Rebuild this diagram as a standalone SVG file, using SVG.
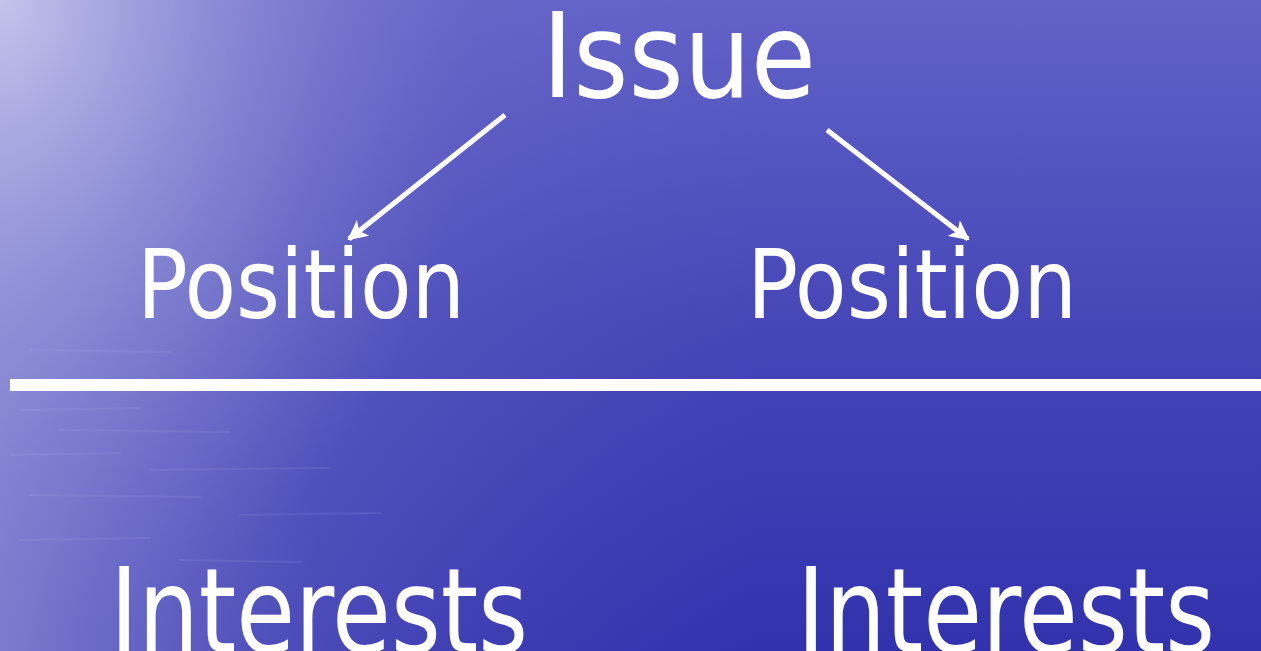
<svg xmlns="http://www.w3.org/2000/svg" width="1261" height="651" viewBox="0 0 1261 651">
<style>
.t{font-family:"DejaVu Sans Condensed","DejaVu Sans","Verdana",sans-serif;font-stretch:condensed;fill:#ffffff;}
.c{stroke:#ffffff;stroke-width:5;fill:none;}
.streak{stroke:#c8c8f0;stroke-width:2;stroke-linecap:round;opacity:0.1;}
</style>
<defs>
<linearGradient id="bgV" x1="0" y1="0" x2="0" y2="1">
<stop offset="0" stop-color="#6262c8"/>
<stop offset="0.5" stop-color="#4646b8"/>
<stop offset="1" stop-color="#3232ae"/>
</linearGradient>
<linearGradient id="bgH" x1="0" y1="0" x2="1" y2="0">
<stop offset="0" stop-color="#9494da" stop-opacity="0.75"/>
<stop offset="0.25" stop-color="#8080d0" stop-opacity="0.3"/>
<stop offset="0.6" stop-color="#6060c0" stop-opacity="0"/>
</linearGradient>
<radialGradient id="glow" cx="0" cy="0" r="1" gradientUnits="userSpaceOnUse" gradientTransform="translate(0,0) scale(480,640)">
<stop offset="0" stop-color="#c4c4ec" stop-opacity="1"/>
<stop offset="0.45" stop-color="#a4a4e0" stop-opacity="0.5"/>
<stop offset="1" stop-color="#8080d0" stop-opacity="0"/>
</radialGradient>
<marker id="ah" viewBox="0 0 10 10" refX="9" refY="5" markerWidth="4" markerHeight="4" orient="auto" markerUnits="strokeWidth">
<path d="M0,0 L10,5 L0,10 L2.5,5 Z" fill="#ffffff"/>
</marker>
</defs>
<g id="background">
<rect x="0" y="0" width="1261" height="651" fill="url(#bgV)"/>
<rect x="0" y="0" width="1261" height="651" fill="url(#bgH)"/>
<rect x="0" y="0" width="1261" height="651" fill="url(#glow)"/>
<g>
<line class="streak" x1="20" y1="410" x2="140" y2="408"/>
<line class="streak" x1="60" y1="430" x2="230" y2="432"/>
<line class="streak" x1="10" y1="455" x2="120" y2="453"/>
<line class="streak" x1="150" y1="470" x2="330" y2="468"/>
<line class="streak" x1="30" y1="495" x2="200" y2="497"/>
<line class="streak" x1="240" y1="515" x2="380" y2="513"/>
<line class="streak" x1="20" y1="540" x2="150" y2="538"/>
<line class="streak" x1="180" y1="560" x2="300" y2="562"/>
<line class="streak" x1="30" y1="350" x2="170" y2="352"/>
</g>
</g>
<g id="divider">
<rect x="10" y="379" width="1251" height="12" fill="#ffffff"/>
</g>
<g id="connectors">
<line class="c" x1="505" y1="115" x2="349" y2="239" marker-end="url(#ah)"/>
<line class="c" x1="827" y1="130" x2="968" y2="239" marker-end="url(#ah)"/>
</g>
<g id="node-issue">
<text class="t" x="542" y="97" font-size="118" textLength="274" lengthAdjust="spacingAndGlyphs">Issue</text>
</g>
<g id="node-position-left">
<text class="t" x="137" y="318" font-size="96" textLength="328" lengthAdjust="spacingAndGlyphs">Position</text>
</g>
<g id="node-position-right">
<text class="t" x="747" y="318" font-size="96" textLength="330" lengthAdjust="spacingAndGlyphs">Position</text>
</g>
<g id="node-interests-left">
<text class="t" x="110" y="652" font-size="118" textLength="418" lengthAdjust="spacingAndGlyphs">Interests</text>
</g>
<g id="node-interests-right">
<text class="t" x="797" y="652" font-size="118" textLength="418" lengthAdjust="spacingAndGlyphs">Interests</text>
</g>
</svg>
